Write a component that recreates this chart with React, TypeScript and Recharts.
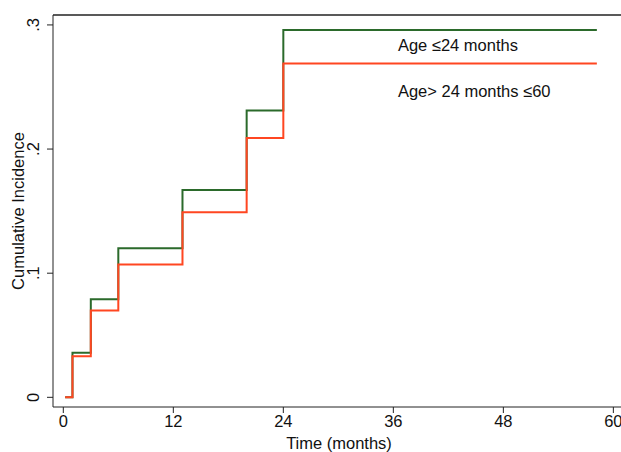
import { LineChart, Line, XAxis, YAxis, ReferenceLine, ReferenceDot, Label } from 'recharts';

// follow-up times (months) where the curves step
const times = [0.2, 1, 3, 6, 13, 20, 24, 58.2];
const youngerGroup = [0, 0.036, 0.079, 0.12, 0.167, 0.231, 0.296, 0.296];
const olderGroup = [0, 0.033, 0.07, 0.107, 0.149, 0.209, 0.269, 0.269];
const xTicks = [0, 12, 24, 36, 48, 60];
const yTicks = [0, 0.1, 0.2, 0.3];
const seriesNames = ['Age \u226424 months', 'Age> 24 months \u226460'];

const GREEN = '#2b6a2b';
const RED = '#ff4621';
const FONT = '"Liberation Sans", Arial, sans-serif';
const FS = 16.5;

const data = times.map((t, i) => ({ t, young: youngerGroup[i], old: olderGroup[i] }));

const fmtY = (v: number) => (v === 0 ? '0' : String(v).replace(/^0/, ''));

function YTick({ x, y, payload }: any) {
  const bx = x - 6;
  return (
    <text
      x={bx}
      y={y}
      transform={`rotate(-90 ${bx} ${y})`}
      textAnchor="middle"
      fontFamily={FONT}
      fontSize={FS}
      fill="#111"
    >
      {fmtY(payload.value)}
    </text>
  );
}

function inlineLabel(text: string) {
  return (p: any) => (
    <text x={p.cx} y={p.cy} dy={6} fontFamily={FONT} fontSize={FS} fill="#111">
      {text}
    </text>
  );
}

export default function App() {
  return (
    <div style={{ position: 'absolute', left: 0, top: 0, width: 621, height: 452, overflow: 'hidden', background: '#fff' }}>
      <LineChart width={640} height={452} data={data} margin={{ top: 15, right: 15, bottom: 0, left: 0 }}>
        <XAxis
          type="number"
          dataKey="t"
          domain={[-1.124, 61.27]}
          ticks={xTicks}
          tickSize={6}
          stroke="#222"
          tick={{ fill: '#111', fontFamily: FONT, fontSize: FS }}
          height={45}
          interval={0}
        >
          <Label value="Time (months)" position="insideBottom" offset={3} style={{ fill: '#111', fontFamily: FONT, fontSize: FS }} />
        </XAxis>
        <YAxis
          type="number"
          domain={[-0.0078, 0.308]}
          ticks={yTicks}
          tickSize={6}
          stroke="#222"
          width={53}
          tick={<YTick />}
          interval={0}
        >
          <Label
            value="Cumulative Incidence"
            angle={-90}
            position="insideLeft"
            offset={18}
            style={{ fill: '#111', fontFamily: FONT, fontSize: FS, textAnchor: 'middle' }}
          />
        </YAxis>
        <ReferenceLine y={0.308} stroke="#222" strokeWidth={1.5} ifOverflow="visible" />
        <Line type="stepAfter" dataKey="young" stroke={GREEN} strokeWidth={2} dot={false} isAnimationActive={false} />
        <Line type="stepAfter" dataKey="old" stroke={RED} strokeWidth={2} dot={false} isAnimationActive={false} />
        <ReferenceDot x={36.5} y={0.284} r={0} shape={inlineLabel(seriesNames[0])} />
        <ReferenceDot x={36.5} y={0.247} r={0} shape={inlineLabel(seriesNames[1])} />
      </LineChart>
    </div>
  );
}
